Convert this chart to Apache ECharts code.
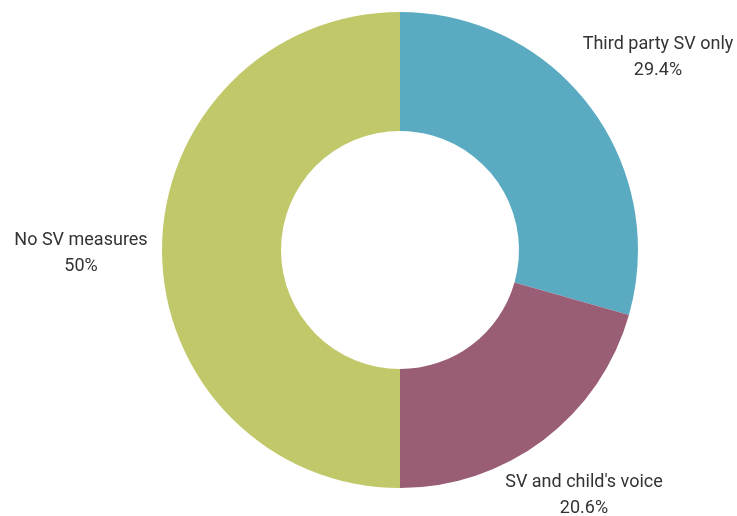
<!DOCTYPE html>
<html>
<head>
<meta charset="utf-8">
<script src="https://cdn.jsdelivr.net/npm/echarts@6/dist/echarts.min.js"></script>
<style>html,body{margin:0;padding:0;background:#fff;}#c{width:737px;height:516px;}</style>
</head>
<body>
<div id="c"></div>
<script>
const categories = ["Third party SV only", "SV and child's voice", "No SV measures"];
const values = [29.4, 20.6, 50];
const valueLabels = ["29.4%", "20.6%", "50%"];
const colors = ["#5aabc2", "#995e75", "#c0c86a"];
// label anchor positions (label placement only)
const labelPos = [[658, 57], [584, 495], [81, 253]];

const chart = echarts.init(document.getElementById('c'), null, {renderer: 'canvas'});
chart.setOption({
  animation: false,
  series: [{
    type: 'pie',
    center: [400, 250],
    radius: [119, 238],
    startAngle: 90,
    clockwise: true,
    avoidLabelOverlap: false,
    data: categories.map((n, i) => ({name: n, value: values[i], itemStyle: {color: colors[i]}})),
    label: {
      show: true,
      position: 'outside',
      formatter: (p) => p.name + '\n' + valueLabels[p.dataIndex],
      fontFamily: 'Roboto',
      fontSize: 18,
      color: '#333',
      lineHeight: 26,
      align: 'center'
    },
    labelLine: {show: false},
    labelLayout: (p) => ({x: labelPos[p.dataIndex][0], y: labelPos[p.dataIndex][1], align: 'center', verticalAlign: 'middle'})
  }]
});
</script>
</body>
</html>
